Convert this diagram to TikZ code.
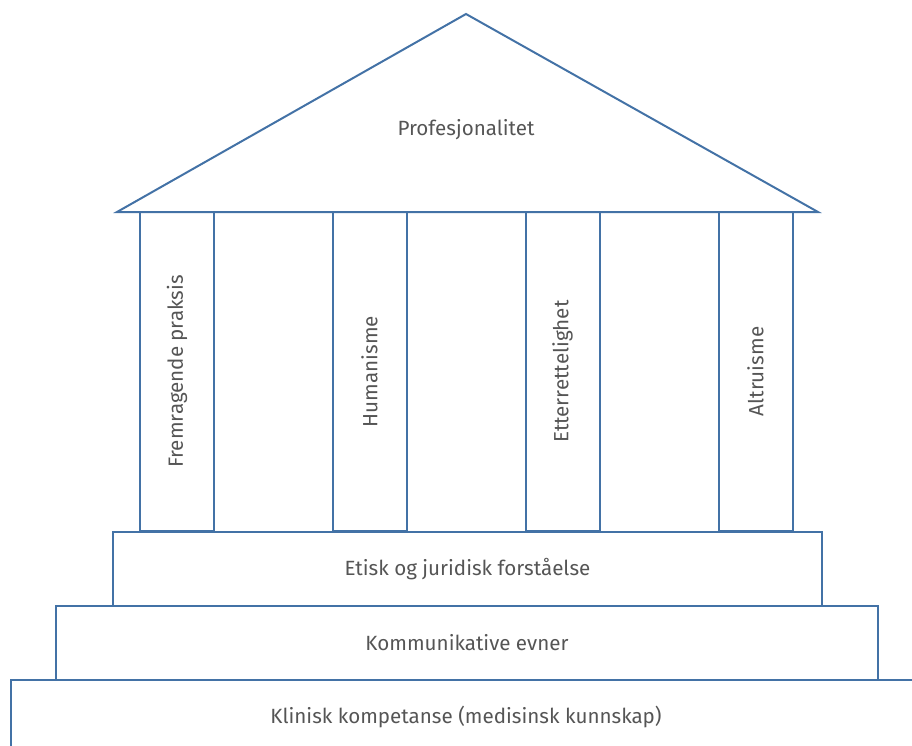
\documentclass[tikz,border=0pt]{standalone}
\usepackage{fontspec}
\setmainfont{Fira Sans}
\usepackage{xcolor}
\usepackage{tikz}
\usetikzlibrary{positioning}
\definecolor{templeblue}{HTML}{4372A6}
\definecolor{labelgray}{HTML}{555555}

\tikzset{
  templeline/.style={draw=templeblue, line width=2pt},
  labeltext/.style={text=labelgray, font=\fontsize{20.6}{24}\selectfont},
  pillar/.style={templeline, labeltext, rotate=90, minimum width=319pt,
                 minimum height=74pt, inner sep=0pt},
  stepbox/.style={templeline, labeltext, anchor=north west, inner sep=0pt},
}

\begin{document}
\begin{tikzpicture}[x=1pt, y=-1pt]
    \useasboundingbox (0,0) rectangle (912,746);
    \clip (0,0) rectangle (912,746);

    % roof
    \coordinate (apex) at (466,14);
    \coordinate (eaveL) at (117,212);
    \coordinate (eaveR) at (818,212);
    \draw[templeline, line join=miter] (eaveL) -- (apex) -- (eaveR) -- cycle;
    \node[labeltext] (roof) at (466,130) {Profesjonalitet};

    % pillars
    \node[pillar] (excellence) at (177,371.5) {Fremragende praksis};
    \node[pillar] (humanism)   at (369.5,371.5) {Humanisme};
    \node[pillar] (integrity)  at (562.5,371.5) {Etterrettelighet};
    \node[pillar] (altruism)   at (755.5,371.5) {Altruisme};

    % steps
    \node[stepbox, minimum width=709pt, minimum height=74pt] (ethics) at (112,531) {Etisk og juridisk forståelse};
    \node[stepbox, minimum width=822pt, minimum height=74pt] (communication) at (55,605) {Kommunikative evner};
    \node[stepbox, minimum width=930pt, minimum height=76pt] (clinical) at (10,679) {};
    \node[labeltext] (clinicaltext) at (466,717) {Klinisk kompetanse (medisinsk kunnskap)};
  \end{tikzpicture}
\end{document}
